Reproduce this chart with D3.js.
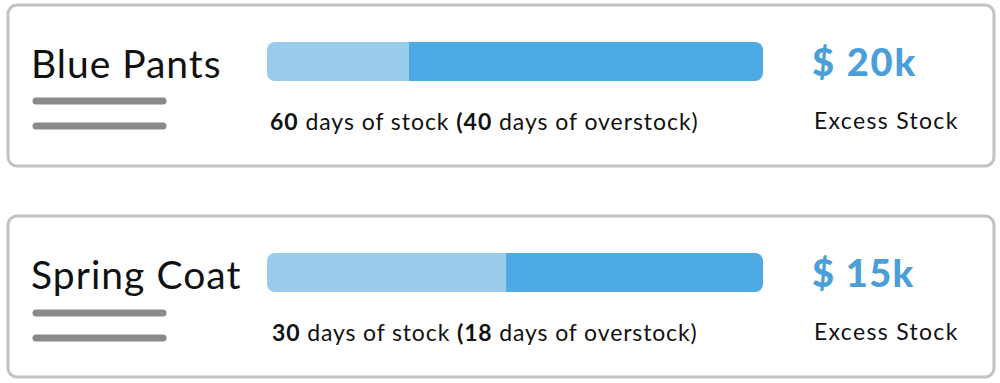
<!DOCTYPE html>
<html>
<head>
<meta charset="utf-8">
<script src="https://cdn.jsdelivr.net/npm/d3@7"></script>
<style>
  body { margin: 0; background: #fff; }
  svg { display: block; font-family: 'Lato', 'Open Sans', sans-serif; }
</style>
</head>
<body>
<div id="chart"></div>
<script>
// data
var products = ['Blue Pants', 'Spring Coat']
var stockDays = [60, 30]
var overstockDays = [40, 18]
var excessK = [20, 15]
// where the light part of each bar ends, in % of the bar
var barSplit = [28.6, 48.2]

var w = 1000
var h = 383

var svg = d3.select('#chart')
  .append('svg')
  .attr('width', w)
  .attr('height', h)

var x = d3.scaleLinear()
  .domain([0, 100])
  .range([267, 763])

var defs = svg.append('defs')

// stretch a text to the width it has in the original (wider font there)
function fit (sel, width) {
  var node = sel.node()
  var len = node.getComputedTextLength()
  var n = node.textContent.length
  if (n > 1) sel.attr('letter-spacing', ((width - len) / (n - 0.5)).toFixed(2))
  return sel
}

products.forEach(function (p, i) {
  var top = [5, 216][i]
  var g = svg.append('g').attr('transform', 'translate(0,' + top + ')')

  // card frame
  g.append('rect')
    .attr('x', 8)
    .attr('y', 0)
    .attr('width', 986)
    .attr('height', 161)
    .attr('rx', 9)
    .attr('fill', '#fff')
    .attr('stroke', '#c2c2c2')
    .attr('stroke-width', 3)

  // title
  var t = g.append('text')
    .attr('x', 31)
    .attr('y', 73)
    .attr('font-size', 39)
    .attr('fill', '#111')
    .text(p)
  fit(t, i === 0 ? 190 : 210)

  // two placeholder lines
  var lineY = i === 0 ? [96, 121] : [97, 122]
  lineY.forEach(function (ly) {
    g.append('line')
      .attr('x1', 36)
      .attr('x2', 163)
      .attr('y1', ly)
      .attr('y2', ly)
      .attr('stroke', '#8a8a8a')
      .attr('stroke-width', 7)
      .attr('stroke-linecap', 'round')
  })

  // bar
  var by = 37
  var bh = 39
  defs.append('clipPath')
    .attr('id', 'bar' + i)
    .append('rect')
    .attr('x', x(0))
    .attr('y', by)
    .attr('width', x(100) - x(0))
    .attr('height', bh)
    .attr('rx', 8)

  var bar = g.append('g').attr('clip-path', 'url(#bar' + i + ')')
  bar.append('rect')
    .attr('x', x(0))
    .attr('y', by)
    .attr('width', x(barSplit[i]) - x(0))
    .attr('height', bh)
    .attr('fill', '#99cbea')
  bar.append('rect')
    .attr('x', x(barSplit[i]))
    .attr('y', by)
    .attr('width', x(100) - x(barSplit[i]))
    .attr('height', bh)
    .attr('fill', '#4eaae5')

  // caption under bar
  var cap = g.append('text')
    .attr('x', i === 0 ? 270 : 272)
    .attr('y', 125)
    .attr('font-size', 23)
    .attr('fill', '#111')
  cap.append('tspan').attr('font-weight', 'bold').text(stockDays[i])
  cap.append('tspan').text(' days of stock ')
  cap.append('tspan').attr('font-weight', 'bold').text('(' + overstockDays[i])
  cap.append('tspan').text(' days of overstock)')
  fit(cap, i === 0 ? 428 : 425)

  // value
  var v = g.append('text')
    .attr('x', 812)
    .attr('y', 71)
    .attr('font-size', 38)
    .attr('font-weight', 900)
    .attr('fill', '#4a9fd9')
    .text('$ ' + excessK[i] + 'k')
  fit(v, i === 0 ? 104 : 102)

  var e = g.append('text')
    .attr('x', 814)
    .attr('y', 124)
    .attr('font-size', 23)
    .attr('fill', '#111')
    .text('Excess Stock')
  fit(e, 144)
})
</script>
</body>
</html>
